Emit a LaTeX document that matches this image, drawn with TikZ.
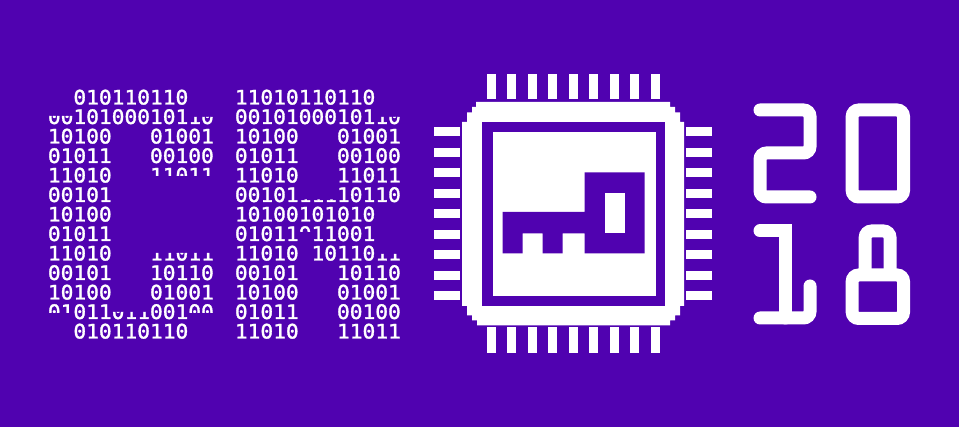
\documentclass[tikz,border=0pt]{standalone}
\usepackage{fontspec}
\newfontfamily\binfont[FakeStretch=1.06,FakeBold=1.6]{DejaVu Sans Mono}
\definecolor{backviolet}{HTML}{5002B0}
\tikzset{
	bintext/.style={anchor=base west, inner sep=0pt, text=white, font=\binfont\fontsize{20}{20}\selectfont},
	chipwhite/.style={fill=white, draw=none},
	chipviolet/.style={fill=backviolet, draw=none},
	digitline/.style={draw=white, line width=13pt, line cap=round, rounded corners=6.5pt}
}

\begin{document}
\begin{tikzpicture}[x=1pt, y=-1pt]
			%%%%% START %%%%%
			
			\fill[backviolet] (0, 0) rectangle (959, 427);
			\useasboundingbox (0, 0) rectangle (959, 427);
			
			% left letter
			\begin{scope}
				\clip (73, 85) -- (189, 85) -- (189, 117) -- (215, 117) -- (215, 176) -- (150, 176) -- (150, 125) -- (112, 125) -- (112, 312) -- (150, 312) -- (150, 253) -- (215, 253) -- (215, 313) -- (189, 313) -- (189, 345) -- (73, 345) -- (73, 313) -- (47, 313) -- (47, 116) -- (73, 116) -- cycle;
				\node[bintext] (lefta) at (47.7, 104.5) {~~010110110};
				\node[bintext] (leftb) at (47.7, 124) {0010100010110};
				\node[bintext] (leftc) at (47.7, 143.5) {10100~~~01001};
				\node[bintext] (leftd) at (47.7, 163) {01011~~~00100};
				\node[bintext] (lefte) at (47.7, 182.5) {11010~~~11011};
				\node[bintext] (leftf) at (47.7, 202) {00101};
				\node[bintext] (leftg) at (47.7, 221.5) {10100};
				\node[bintext] (lefth) at (47.7, 241) {01011};
				\node[bintext] (lefti) at (47.7, 260.5) {11010~~~11011};
				\node[bintext] (leftj) at (47.7, 280) {00101~~~10110};
				\node[bintext] (leftk) at (47.7, 299.5) {10100~~~01001};
				\node[bintext] (leftl) at (47.7, 319) {0101101100100};
				\node[bintext] (leftm) at (47.7, 338.5) {~~010110110};
			\end{scope}
			
			% right letter
			\begin{scope}
				\clip (234, 85) -- (318, 85) -- (318, 125) -- (299, 125) -- (299, 199.5) -- (338, 199.5) -- (338, 125) -- (318, 125) -- (318, 85) -- (376, 85) -- (376, 117) -- (402, 117) -- (402, 204) -- (376, 204) -- (376, 254) -- (402, 254) -- (402, 345) -- (338, 345) -- (338, 263) -- (312, 263) -- (312, 232) -- (299, 232) -- (299, 345) -- (234, 345) -- cycle;
				\node[bintext] (righta) at (234.7, 104.5) {11010110110};
				\node[bintext] (rightb) at (234.7, 124) {0010100010110};
				\node[bintext] (rightc) at (234.7, 143.5) {10100~~~01001};
				\node[bintext] (rightd) at (234.7, 163) {01011~~~00100};
				\node[bintext] (righte) at (234.7, 182.5) {11010~~~11011};
				\node[bintext] (rightf) at (234.7, 202) {0010111110110};
				\node[bintext] (rightg) at (234.7, 221.5) {10100101010};
				\node[bintext] (righth) at (234.7, 241) {01011011001};
				\node[bintext] (righti) at (234.7, 260.5) {11010~1011011};
				\node[bintext] (rightj) at (234.7, 280) {00101~~~10110};
				\node[bintext] (rightk) at (234.7, 299.5) {10100~~~01001};
				\node[bintext] (rightl) at (234.7, 319) {01011~~~00100};
				\node[bintext] (rightm) at (234.7, 338.5) {11010~~~11011};
			\end{scope}
			
			% chip pins
			\fill[chipwhite] (487, 74) rectangle (496, 99.5);
			\fill[chipwhite] (507.4, 74) rectangle (516.4, 99.5);
			\fill[chipwhite] (527.8, 74) rectangle (536.8, 99.5);
			\fill[chipwhite] (548.2, 74) rectangle (557.2, 99.5);
			\fill[chipwhite] (568.6, 74) rectangle (577.6, 99.5);
			\fill[chipwhite] (589, 74) rectangle (598, 99.5);
			\fill[chipwhite] (609.6, 74) rectangle (618.6, 99.5);
			\fill[chipwhite] (630, 74) rectangle (639, 99.5);
			\fill[chipwhite] (650.6, 74) rectangle (659.6, 99.5);
			
			\fill[chipwhite] (487, 327.5) rectangle (496, 353);
			\fill[chipwhite] (507.4, 327.5) rectangle (516.4, 353);
			\fill[chipwhite] (527.8, 327.5) rectangle (536.8, 353);
			\fill[chipwhite] (548.2, 327.5) rectangle (557.2, 353);
			\fill[chipwhite] (568.6, 327.5) rectangle (577.6, 353);
			\fill[chipwhite] (589, 327.5) rectangle (598, 353);
			\fill[chipwhite] (609.6, 327.5) rectangle (618.6, 353);
			\fill[chipwhite] (630, 327.5) rectangle (639, 353);
			\fill[chipwhite] (650.6, 327.5) rectangle (659.6, 353);
			
			\fill[chipwhite] (434, 127.5) rectangle (459.5, 136.5);
			\fill[chipwhite] (434, 148) rectangle (459.5, 157);
			\fill[chipwhite] (434, 168.5) rectangle (459.5, 177.5);
			\fill[chipwhite] (434, 189) rectangle (459.5, 198);
			\fill[chipwhite] (434, 209.5) rectangle (459.5, 218.5);
			\fill[chipwhite] (434, 230) rectangle (459.5, 239);
			\fill[chipwhite] (434, 250.5) rectangle (459.5, 259.5);
			\fill[chipwhite] (434, 271) rectangle (459.5, 280);
			\fill[chipwhite] (434, 291.5) rectangle (459.5, 300.5);
			
			\fill[chipwhite] (686, 127.5) rectangle (711.5, 136.5);
			\fill[chipwhite] (686, 148) rectangle (711.5, 157);
			\fill[chipwhite] (686, 168.5) rectangle (711.5, 177.5);
			\fill[chipwhite] (686, 189) rectangle (711.5, 198);
			\fill[chipwhite] (686, 209.5) rectangle (711.5, 218.5);
			\fill[chipwhite] (686, 230) rectangle (711.5, 239);
			\fill[chipwhite] (686, 250.5) rectangle (711.5, 259.5);
			\fill[chipwhite] (686, 271) rectangle (711.5, 280);
			\fill[chipwhite] (686, 291.5) rectangle (711.5, 300.5);
			
			% chip body
			\fill[chipwhite] (462, 122) -- (467, 122) -- (467, 112.5) -- (472, 112.5) -- (472, 107) -- (476, 107) -- (476, 102) -- (670, 102) -- (670, 107) -- (675, 107) -- (675, 112.5) -- (680, 112.5) -- (680, 122) -- (684, 122) -- (684, 306) -- (680, 306) -- (680, 315.5) -- (675, 315.5) -- (675, 320.5) -- (670, 320.5) -- (670, 325.5) -- (477, 325.5) -- (477, 320.5) -- (472, 320.5) -- (472, 315.5) -- (467, 315.5) -- (467, 306) -- (462, 306) -- cycle;
			\fill[chipviolet] (482, 122) rectangle (665, 306);
			\fill[chipwhite] (492.5, 132.5) rectangle (656, 296);
			
			% key
			\fill[chipviolet] (502.5, 212) -- (584.5, 212) -- (584.5, 172.5) -- (644.5, 172.5) -- (644.5, 253.5) -- (584.5, 253.5) -- (584.5, 233.5) -- (562.5, 233.5) -- (562.5, 253.5) -- (542.5, 253.5) -- (542.5, 233.5) -- (522.5, 233.5) -- (522.5, 253.5) -- (502.5, 253.5) -- cycle;
			\fill[chipwhite] (605, 193.5) rectangle (625, 233.5);
			
			% year
			\draw[digitline] (760, 110) -- (810, 110) -- (810, 153) -- (760, 153) -- (760, 197) -- (810, 197);
			\draw[digitline] (852.2, 110) rectangle (903.5, 197);
			\draw[digitline, rounded corners=0pt, line join=miter] (760, 231) -- (785, 231) -- (785, 318);
			\draw[digitline] (760, 318) -- (810, 318) -- (810, 286);
			\draw[digitline] (865.2, 271) -- (865.2, 231) -- (890, 231) -- (890, 271);
			\draw[digitline] (852.2, 275) rectangle (903.5, 318.5);
			
			%%%%% END %%%%%
		\end{tikzpicture}
\end{document}
